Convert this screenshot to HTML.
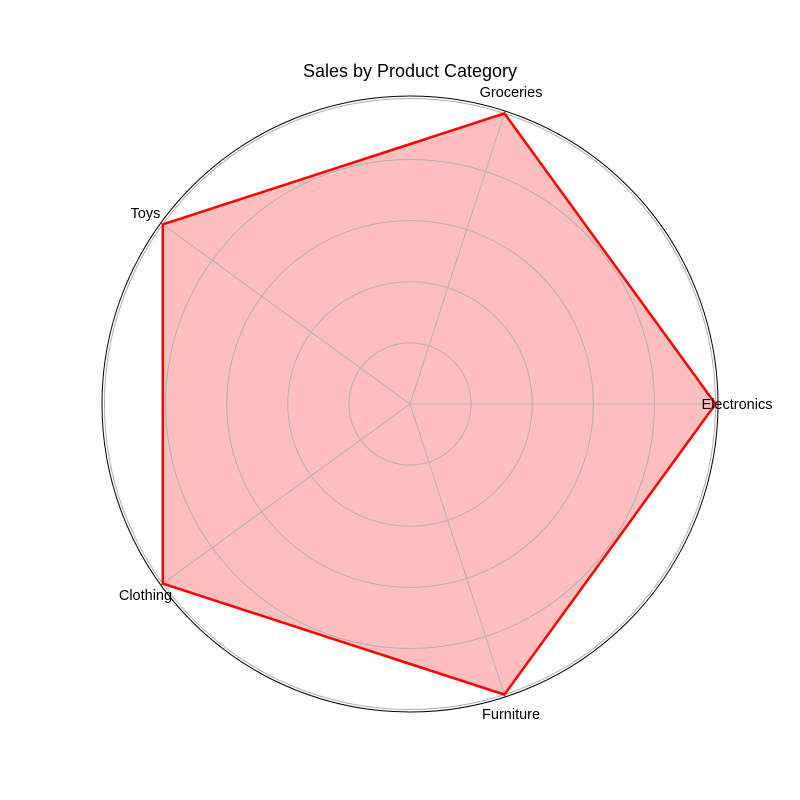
<!DOCTYPE html>
<html><head><meta charset="utf-8"><style>
html,body{margin:0;padding:0;background:#fff;}
svg{display:block;font-family:"Liberation Sans","DejaVu Sans",sans-serif;}
</style></head><body>
<svg id="chart" width="800" height="800" viewBox="0 0 800 800">
<text x="410" y="77" text-anchor="middle" font-size="18" fill="#000">Sales by Product Category</text>
<g id="fill"></g>
<g id="grid"></g>
<g id="series"></g>
<g id="labels"></g>
</svg>
<script>
const categories = ["Electronics","Groceries","Toys","Clothing","Furniture"];
const values = [100,100,100,100,100];
const gridTicks = [20,40,60,80,100];
const cx=410, cy=404, rMaxPx=308, rMaxVal=100.8;
const ns="http://www.w3.org/2000/svg";
function rScale(v){return v/rMaxVal*rMaxPx;}
function angle(i){return i*2*Math.PI/categories.length;}
function pt(i,v){const a=angle(i),r=rScale(v);return [cx+r*Math.cos(a), cy-r*Math.sin(a)];}
function mk(tag,attrs,parent){const e=document.createElementNS(ns,tag);for(const k in attrs)e.setAttribute(k,attrs[k]);parent.appendChild(e);return e;}
const pts=values.map((v,i)=>pt(i,v).join(',')).join(' ');
const fillG=document.getElementById('fill');
const area=mk('polygon',{points:pts,fill:'rgba(255,0,0,0.25)',stroke:'none'},fillG);


const grid=document.getElementById('grid');
gridTicks.forEach(t=>{
  const c=mk('circle',{cx:cx,cy:cy,r:rScale(t),fill:'none',stroke:'#b0b0b0','stroke-width':1},grid);
  
  
});
categories.forEach((c,i)=>{
  const p=pt(i,rMaxVal);
  const l=mk('line',{x1:cx,y1:cy,x2:p[0],y2:p[1],stroke:'#b0b0b0','stroke-width':1},grid);
  
  
});
const series=document.getElementById('series');
const poly=mk('polygon',{points:pts,fill:'none',stroke:'red','stroke-width':2.5,'stroke-linejoin':'miter'},series);


const outer=mk('circle',{cx:cx,cy:cy,r:rMaxPx,fill:'none',stroke:'#000','stroke-width':1},series);


const labels=document.getElementById('labels');
const dy=[5,4,6,4,4];
categories.forEach((c,i)=>{
  const a=angle(i),r=rMaxPx+19;
  const x=cx+r*Math.cos(a), y=cy-r*Math.sin(a);
  const t=mk('text',{x:x,y:y+dy[i],'text-anchor':'middle','font-size':14.5,fill:'#000'},labels);
  t.textContent=c;
  
  
});
</script>
</body></html>
